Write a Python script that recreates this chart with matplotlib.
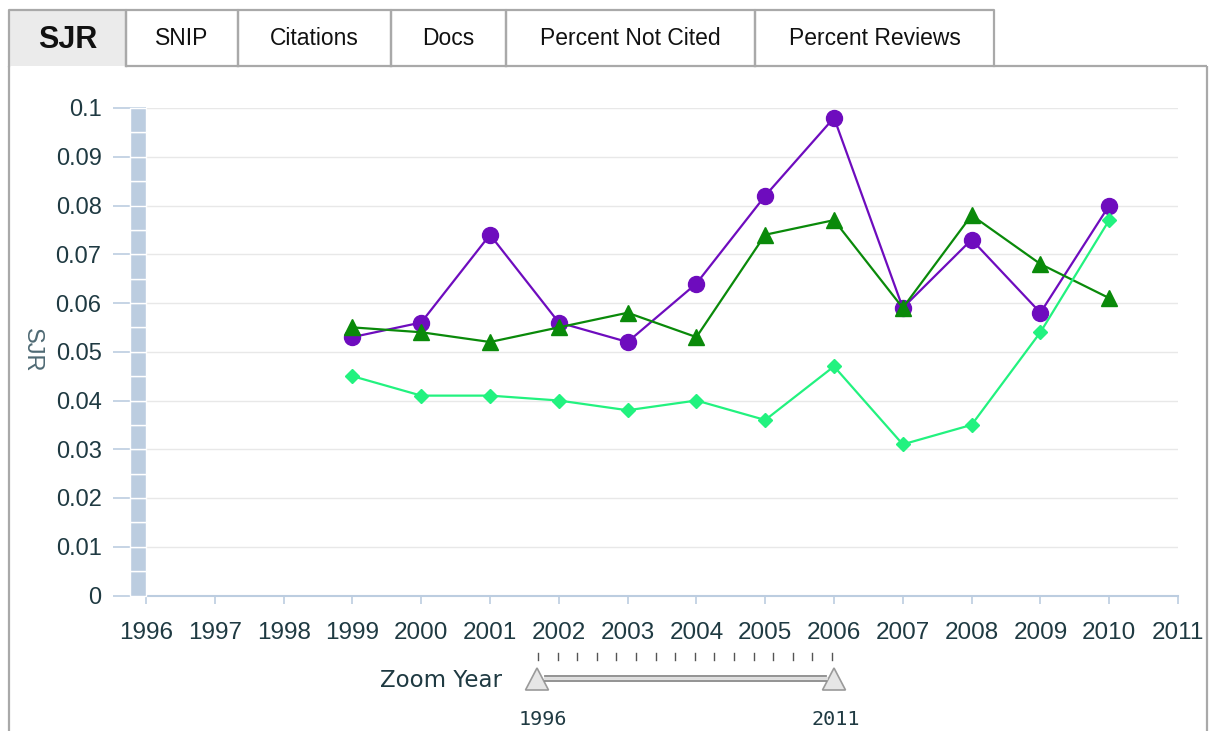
import matplotlib
matplotlib.use("Agg")
import matplotlib.pyplot as plt
from matplotlib.patches import Rectangle, Polygon
import numpy as np

plt.rcParams['font.family'] = ['Liberation Sans', 'DejaVu Sans']

# ---- data ----
years = [1999, 2000, 2001, 2002, 2003, 2004, 2005, 2006, 2007, 2008, 2009, 2010]
series_purple = [0.053, 0.056, 0.074, 0.056, 0.052, 0.064, 0.082, 0.098, 0.059, 0.073, 0.058, 0.080]
series_green = [0.055, 0.054, 0.052, 0.055, 0.058, 0.053, 0.074, 0.077, 0.059, 0.078, 0.068, 0.061]
series_light = [0.045, 0.041, 0.041, 0.040, 0.038, 0.040, 0.036, 0.047, 0.031, 0.035, 0.054, 0.077]
x_ticks = list(range(1996, 2012))
y_ticks = [0, 0.01, 0.02, 0.03, 0.04, 0.05, 0.06, 0.07, 0.08, 0.09, 0.1]
y_tick_labels = ['0', '0.01', '0.02', '0.03', '0.04', '0.05', '0.06', '0.07', '0.08', '0.09', '0.1']
tabs = ['SJR', 'SNIP', 'Citations', 'Docs', 'Percent Not Cited', 'Percent Reviews']
y_label = 'SJR'
zoom_label = 'Zoom Year'
zoom_range = ['1996', '2011']

W, H = 1214, 731
fig = plt.figure(figsize=(W / 100, H / 100), dpi=100)
fig.patch.set_facecolor('white')

# ---- overlay in pixel coordinates for UI chrome ----
ov = fig.add_axes([0, 0, 1, 1], zorder=0)
ov.set_xlim(0, W)
ov.set_ylim(H, 0)
ov.axis('off')

border = '#A9A9A9'
text_dark = '#1F3A42'

# panel
ov.plot([9, 9], [66, H + 5], color=border, lw=1.6, solid_capstyle='butt')
ov.plot([1207, 1207], [66, H + 5], color=border, lw=1.6, solid_capstyle='butt')
ov.plot([126, 1207], [66, 66], color=border, lw=1.6, solid_capstyle='butt')

# tabs
tab_edges = [9, 126, 238, 391, 506, 755, 994]
for i, name in enumerate(tabs):
    x0, x1 = tab_edges[i], tab_edges[i + 1]
    fc = '#EBEBEB' if i == 0 else 'white'
    ov.add_patch(Rectangle((x0, 10), x1 - x0, 56, facecolor=fc, edgecolor='none'))
    ov.plot([x0, x0, x1, x1], [66, 10, 10, 66], color=border, lw=1.6)
    if i == 0:
        ov.text((x0 + x1) / 2, 48, name, ha='center', va='baseline',
                fontsize=22, fontweight='bold', color='#111111')
    else:
        ov.text((x0 + x1) / 2, 45, name, ha='center', va='baseline',
                fontsize=16.5, color='#111111')

# y label
ov.text(32, 350, y_label, rotation=270, ha='center', va='center',
        fontsize=17, color='#4F6A74')

# zoom slider
ov.text(502, 687, zoom_label, ha='right', va='baseline', fontsize=16.5,
        color=text_dark, family=['DejaVu Sans'])
for tx in np.linspace(538, 832, 16):
    ov.plot([tx, tx], [653, 660], color='#555555', lw=1)
ov.plot([545, 826], [675.5, 675.5], color='#8A8A8A', lw=1.3)
ov.plot([545, 826], [680.5, 680.5], color='#8A8A8A', lw=1.3)
ov.plot([545, 826], [678, 678], color='#DDDDDD', lw=2)
for cx in (537, 834):
    ov.add_patch(Polygon([[cx - 11.5, 690], [cx + 11.5, 690], [cx, 668]], closed=True,
                         facecolor='#E6E6E6', edgecolor='#9A9A9A', lw=1.2))
ov.text(543, 725, zoom_range[0], ha='center', va='baseline', fontsize=14.5,
        color=text_dark, family=['DejaVu Sans Mono'])
ov.text(836, 725, zoom_range[1], ha='center', va='baseline', fontsize=14.5,
        color=text_dark, family=['DejaVu Sans Mono'])

# ---- main chart ----
left, right, top, bottom = 146, 1178, 108, 595.5
ax = fig.add_axes([left / W, 1 - bottom / H, (right - left) / W, (bottom - top) / H], zorder=1)
ax.set_facecolor('none')
ax.set_xlim(1996, 2011)
ax.set_ylim(0, 0.1)

axis_blue = '#BCCDE0'
for s in ['top', 'right', 'left']:
    ax.spines[s].set_visible(False)
ax.spines['bottom'].set_color(axis_blue)
ax.spines['bottom'].set_linewidth(1.5)

ax.set_yticks(y_ticks)
ax.set_yticklabels(y_tick_labels)
ax.set_xticks(x_ticks)
ax.set_xticklabels([str(x) for x in x_ticks])
ax.tick_params(axis='y', direction='out', length=24, width=1.2, color=axis_blue,
               pad=8, labelsize=17, labelcolor=text_dark)
ax.tick_params(axis='x', direction='out', length=6, width=1.2, color=axis_blue,
               pad=13, labelsize=17.5, labelcolor=text_dark)
ax.grid(axis='y', color='#E8E8E8', lw=1)
ax.set_axisbelow(True)

# blue band on the y axis
px_per_year = (right - left) / (x_ticks[-1] - x_ticks[0])
band_w = 16 / px_per_year
for v in np.arange(0, 0.1, 0.005):
    ax.add_patch(Rectangle((1996 - band_w, v), band_w, 0.005, facecolor=axis_blue,
                           edgecolor='white', lw=1.0, clip_on=False, zorder=3))

ax.plot(years, series_purple, color='#6E0CBE', lw=1.6, marker='o', markersize=11.5,
        zorder=4, clip_on=False)
ax.plot(years, series_green, color='#0A8A0A', lw=1.6, marker='^', markersize=11.5,
        zorder=5, clip_on=False)
ax.plot(years, series_light, color='#22F27F', lw=1.6, marker='D', markersize=7.5,
        zorder=6, clip_on=False)

fig.savefig('out.png', dpi=100, facecolor='white')
